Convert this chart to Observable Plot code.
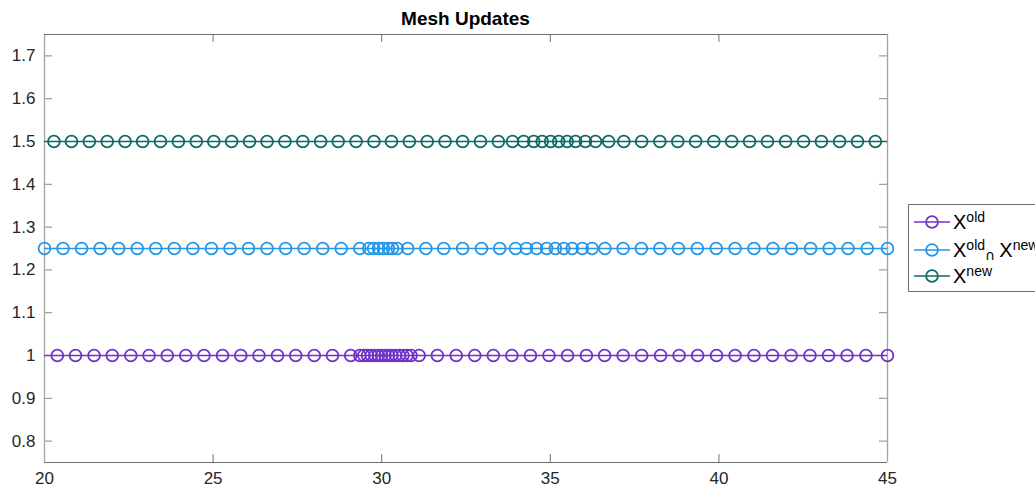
<!DOCTYPE html>
<html><head><meta charset="utf-8">
<script src="https://cdn.jsdelivr.net/npm/d3@7"></script>
<script src="https://cdn.jsdelivr.net/npm/@observablehq/plot@0.6"></script>
<style>
html,body{margin:0;padding:0;background:#fff;overflow:hidden;width:1035px;height:488px;}
#wrap{position:relative;width:1035px;height:488px;overflow:hidden;font-family:"Liberation Sans",Arial,Helvetica,sans-serif;}
#chart{position:absolute;left:0;top:0;}
#title{position:absolute;left:44px;width:843px;top:9px;text-align:center;font-weight:bold;font-size:19px;line-height:19px;color:#000;}
#legend{position:absolute;left:908px;top:204px;width:170px;height:86px;border:1px solid #6e6e6e;background:#fff;}
.row{position:absolute;left:4px;height:24px;display:flex;align-items:center;white-space:nowrap;font-size:20px;color:#000;}
.row svg{margin-right:2px;flex:none;}
.sup{font-size:14px;position:relative;top:-7px;}
.cap{font-size:14px;position:relative;top:3px;margin-right:4px;font-family:"DejaVu Sans",sans-serif;}
</style>
</head><body>
<div id="wrap">
  <div id="chart"></div>
  <div id="title">Mesh Updates</div>
  <div id="legend"></div>
</div>
<script>
// ---- data ----
const seriesNames = ["X^old", "X^old ∩ X^new", "X^new"];
const seriesLevels = [1.0, 1.25, 1.5];
const seriesColors = ["#7232c8", "#2396e8", "#0b6a64"];

// X^old mesh points (y = 1)
const xOld = [19.84,
  20.38, 20.92, 21.47, 22.01, 22.56, 23.10, 23.64, 24.19, 24.73, 25.28, 25.82, 26.36, 26.91, 27.45, 28.00, 28.54, 29.08,
  29.35, 29.47, 29.58, 29.69, 29.80, 29.90, 30.00, 30.10, 30.20, 30.30, 30.41, 30.52, 30.63, 30.75, 30.87,
  31.11, 31.65, 32.21, 32.76, 33.31, 33.86, 34.41, 34.96, 35.51, 36.07, 36.61, 37.16, 37.71, 38.27, 38.82, 39.37,
  39.93, 40.48, 41.04, 41.59, 42.14, 42.70, 43.25, 43.80, 44.36, 45.00];

// X^old ∩ X^new mesh points (y = 1.25)
const xBoth = [
  20.00, 20.55, 21.10, 21.65, 22.20, 22.75, 23.30, 23.85, 24.40, 24.95, 25.50, 26.05, 26.60, 27.15, 27.70, 28.25, 28.80, 29.35,
  29.62, 29.76, 29.91, 30.05, 30.20, 30.32, 30.46,
  30.77, 31.31, 31.84, 32.40, 32.96, 33.50, 33.97,
  34.29, 34.59, 34.89, 35.15, 35.40, 35.65, 35.95, 36.24,
  36.62, 37.16, 37.70, 38.25, 38.80, 39.36, 39.92, 40.48, 41.04, 41.60, 42.15, 42.72, 43.27, 43.83, 44.40, 45.00];

// X^new mesh points (y = 1.5)
const xNew = [19.75,
  20.28, 20.80, 21.33, 21.86, 22.39, 22.91, 23.44, 23.97, 24.50, 25.02, 25.55, 26.08, 26.60, 27.13, 27.66, 28.19,
  28.71, 29.24, 29.77, 30.29, 30.82, 31.35, 31.88, 32.40, 32.93, 33.46,
  33.88, 34.21, 34.51, 34.76, 35.01, 35.25, 35.50, 35.75, 36.04, 36.34, 36.73,
  37.18, 37.71, 38.25, 38.78, 39.31, 39.85, 40.38, 40.91, 41.44, 41.98, 42.51, 43.04, 43.58, 44.11, 44.64,
  45.17];

const xTicks = [20, 25, 30, 35, 40, 45];
const yTicks = [0.8, 0.9, 1.0, 1.1, 1.2, 1.3, 1.4, 1.5, 1.6, 1.7];
const xDomain = [20, 45];
const yDomain = [0.75, 1.75];

// ---- build ----
const seriesX = [xOld, xBoth, xNew];
const W = 1035, H = 488, mL = 44, mR = 148, mT = 34, mB = 26;
const innerW = W - mL - mR, innerH = H - mT - mB;
const tickLen = 8;

const marks = [];
seriesX.forEach((xs, i) => {
  const rows = xs.map(x => ({x, y: seriesLevels[i]}));
  marks.push(Plot.line(rows, {x: "x", y: "y", stroke: seriesColors[i], strokeWidth: 1.7, clip: true}));
  marks.push(Plot.dot(rows.filter(d => d.x >= xDomain[0] - 1e-9 && d.x <= xDomain[1] + 1e-9),
    {x: "x", y: "y", r: 5.9, stroke: seriesColors[i], strokeWidth: 1.8, fill: "none"}));
});

const axisCol = "#a3a3a3";
const frameDark = "#707070";
const plot = Plot.plot({
  width: W, height: H,
  marginLeft: mL, marginRight: mR, marginTop: mT, marginBottom: mB,
  x: {domain: xDomain},
  y: {domain: yDomain},
  style: {fontFamily: '"Liberation Sans", Arial, Helvetica, sans-serif', background: "white"},
  marks: [
    Plot.axisX(xTicks, {anchor: "bottom", tickSize: 0, tickPadding: 9, fontSize: 17, label: null, fill: "#262626", tickFormat: d => String(d)}),
    Plot.axisY(yTicks, {anchor: "left", tickSize: 0, tickPadding: 9, fontSize: 17, label: null, fill: "#262626", tickFormat: d => String(+d.toFixed(1))}),
    // inward ticks
    Plot.tickX(xTicks, {x: d => d, insetTop: innerH - tickLen, stroke: frameDark, strokeWidth: 1}),
    Plot.tickX(xTicks, {x: d => d, insetBottom: innerH - tickLen, stroke: frameDark, strokeWidth: 1}),
    Plot.tickY(yTicks, {y: d => d, insetRight: innerW - tickLen, stroke: "#8a8a8a", strokeWidth: 1}),
    Plot.tickY(yTicks, {y: d => d, insetLeft: innerW - tickLen, stroke: "#8a8a8a", strokeWidth: 1}),
    // box
    Plot.ruleX(xDomain, {stroke: axisCol, strokeWidth: 1.3}),
    Plot.ruleY(yDomain, {stroke: frameDark, strokeWidth: 1.2}),
    ...marks
  ]
});
document.getElementById("chart").appendChild(plot);

// ---- legend (HTML) ----
const legend = document.getElementById("legend");
const labelsHTML = [
  'X<span class="sup">old</span>',
  'X<span class="sup">old</span><span class="cap">∩</span>X<span class="sup">new</span>',
  'X<span class="sup">new</span>'
];
const rowTops = [5, 33, 59];
seriesNames.forEach((name, i) => {
  const row = document.createElement("div");
  row.className = "row";
  row.style.top = rowTops[i] + "px";
  row.title = name;
  row.innerHTML =
    `<svg width="38" height="16"><line x1="1" y1="8" x2="37" y2="8" stroke="${seriesColors[i]}" stroke-width="1.7"/>` +
    `<circle cx="19" cy="8" r="5.9" fill="none" stroke="${seriesColors[i]}" stroke-width="1.8"/></svg>` +
    `<span>${labelsHTML[i]}</span>`;
  legend.appendChild(row);
});
</script>
</body></html>
